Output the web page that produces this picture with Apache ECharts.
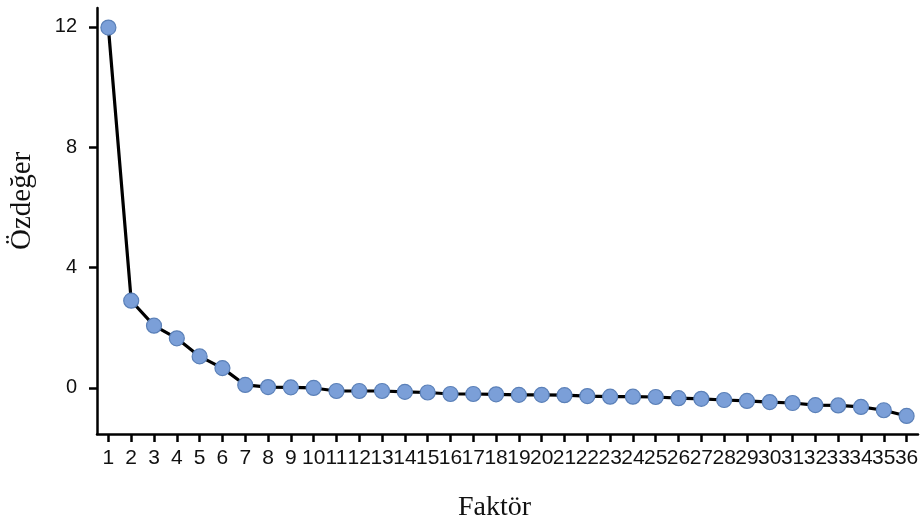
<!DOCTYPE html>
<html><head><meta charset="utf-8">
<script src="https://cdn.jsdelivr.net/npm/echarts@6/dist/echarts.min.js"></script>
<style>html,body{margin:0;padding:0;background:#fff}#c{width:922px;height:526px}</style>
</head><body><div id="c"></div>
<script>
const factors = ['1','2','3','4','5','6','7','8','9','10','11','12','13','14','15','16','17','18','19','20','21','22','23','24','25','26','27','28','29','30','31','32','33','34','35','36'];
const eigenvalues = [11.98, 2.9, 2.07, 1.65, 1.05, 0.66, 0.1, 0.03, 0.02, 0.0, -0.1, -0.1, -0.1, -0.13, -0.15, -0.2, -0.2, -0.21, -0.23, -0.23, -0.24, -0.27, -0.29, -0.29, -0.3, -0.34, -0.36, -0.4, -0.43, -0.47, -0.5, -0.57, -0.58, -0.63, -0.74, -0.93];
const yTicks = [0, 4, 8, 12];
const xTitle = 'Faktör';
const yTitle = 'Özdeğer';

const chart = echarts.init(document.getElementById('c'));
chart.setOption({
  animation: false,
  backgroundColor: '#fff',
  grid: { left: 97, right: 4, top: 8, bottom: 92, containLabel: false },
  xAxis: {
    type: 'category',
    data: factors,
    boundaryGap: true,
    axisLine: { show: true, onZero: false, lineStyle: { color: '#000', width: 2.5 } },
    axisTick: { show: true, interval: 0, alignWithLabel: true, length: 8, lineStyle: { color: '#000', width: 2.5 } },
    axisLabel: { interval: 0, color: '#111', fontFamily: 'Liberation Sans', fontSize: 21, margin: 14, hideOverlap: false },
    splitLine: { show: false }
  },
  yAxis: {
    type: 'value',
    min: -1.53,
    max: 12.63,
    axisLine: { show: true, lineStyle: { color: '#000', width: 2.5 } },
    axisTick: { show: true, length: 8, customValues: yTicks, lineStyle: { color: '#000', width: 2.5 } },
    axisLabel: { customValues: yTicks, color: '#111', fontFamily: 'Liberation Sans', fontSize: 20, margin: 20 },
    splitLine: { show: false }
  },
  graphic: [
    { type: 'text', left: 458, top: 494, style: { text: xTitle, font: '28px "Liberation Serif"', fill: '#111' } },
    { type: 'text', x: 8, y: 250, rotation: Math.PI / 2, style: { text: yTitle, font: '29px "Liberation Serif"', fill: '#111' } }
  ],
  series: [{
    type: 'line',
    data: eigenvalues,
    symbol: 'circle',
    symbolSize: 15,
    lineStyle: { color: '#000', width: 3.2 },
    itemStyle: { color: '#7b9fd8', borderColor: '#5b80b8', borderWidth: 1.2 },
    z: 3
  }]
});
</script></body></html>
